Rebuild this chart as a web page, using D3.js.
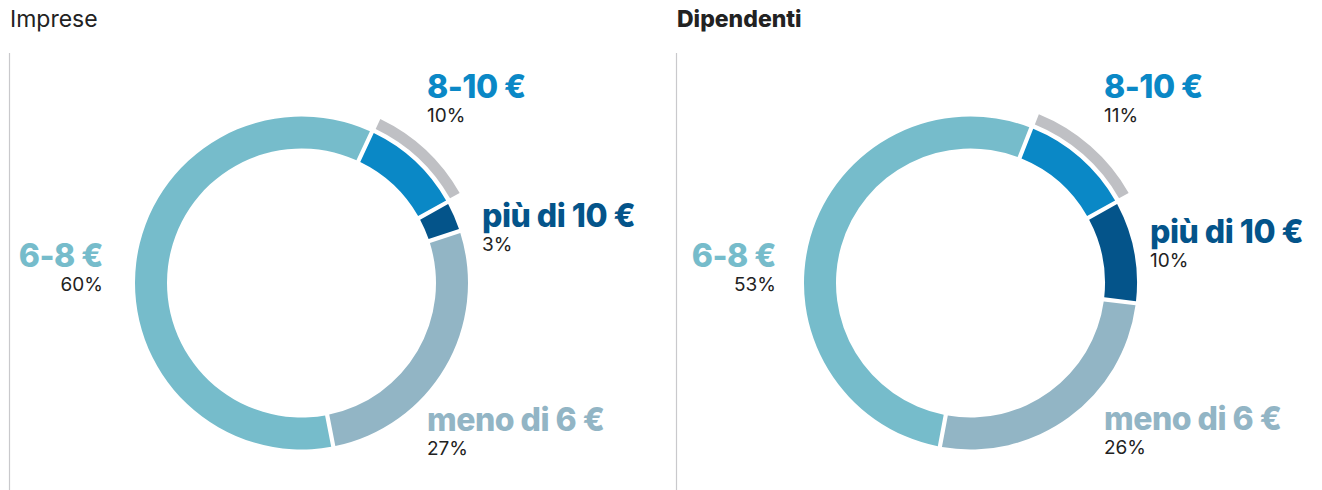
<!DOCTYPE html>
<html>
<head>
<meta charset="utf-8">
<script src="https://cdn.jsdelivr.net/npm/d3@7"></script>
<style>
  body { margin: 0; background: #fff; }
  text { font-family: Inter, "Noto Sans", sans-serif; }
</style>
</head>
<body>
<svg id="chart" width="1322" height="490"></svg>
<script>
// data
var categories = ["8-10 €", "più di 10 €", "meno di 6 €", "6-8 €"];
var impreseValues = [10, 3, 27, 60];
var dipendentiValues = [11, 10, 26, 53];
var chartTitles = ["Imprese", "Dipendenti"];

var colors = ["#0a88c6", "#04548a", "#92b5c5", "#76bccb"];
var highlightColor = "#bfc0c4";

var svg = d3.select("#chart");

// layout of the two donuts
var panels = [
  { title: chartTitles[0], values: impreseValues, cx: 301.5, titleX: 10, titleWeight: 400, lineX: 9.5,
    labels: [[125.5, -185, "start"], [180.5, -56, "start"], [125.5, 148, "start"], [-198.5, -16, "end"]] },
  { title: chartTitles[1], values: dipendentiValues, cx: 970.5, titleX: 677, titleWeight: 800, lineX: 676.5,
    labels: [[133.5, -185, "start"], [179.5, -40, "start"], [133.5, 147, "start"], [-194.5, -16, "end"]] }
];
var cy = 283;
var rOuter = 166.5, rInner = 134.5;

var arc = d3.arc()
    .innerRadius(rInner)
    .outerRadius(rOuter)
    .padAngle(0.021)
    .padRadius(200);

var outerArc = d3.arc()
    .innerRadius(171)
    .outerRadius(182)
    .padAngle(0.021)
    .padRadius(200);

// the end of the first slice sits at the same angle in both charts
var anchor = 61 * Math.PI / 180;

panels.forEach(function(p) {
  svg.append("text")
    .attr("x", p.titleX)
    .attr("y", 27)
    .style("font-size", "23px")
    .style("font-weight", p.titleWeight)
    .style("fill", "#222")
    .text(p.title);

  svg.append("line")
    .attr("x1", p.lineX).attr("x2", p.lineX)
    .attr("y1", 53).attr("y2", 490)
    .style("stroke", "#c9c9cc")
    .style("stroke-width", 1.2);

  var total = d3.sum(p.values);
  var start = anchor - p.values[0] / total * 2 * Math.PI;
  var pie = d3.pie().sort(null)
      .startAngle(start)
      .endAngle(start + 2 * Math.PI);
  var slices = pie(p.values);

  var g = svg.append("g")
    .attr("transform", "translate(" + p.cx + "," + cy + ")");

  g.selectAll("path.slice")
    .data(slices)
    .enter()
    .append("path")
    .attr("class", "slice")
    .attr("d", arc)
    .style("fill", function(d, i) { return colors[i]; });

  // grey highlight ring over the first slice
  g.append("path")
    .attr("d", outerArc(slices[0]))
    .style("fill", highlightColor);

  var lab = g.selectAll("g.lab")
    .data(slices)
    .enter()
    .append("g")
    .attr("class", "lab")
    .attr("transform", function(d, i) { return "translate(" + p.labels[i][0] + "," + p.labels[i][1] + ")"; });

  lab.append("text")
    .attr("text-anchor", function(d, i) { return p.labels[i][2]; })
    .style("font-size", "32px")
    .style("font-weight", 800)
    .style("letter-spacing", "-0.5px")
    .style("fill", function(d, i) { return colors[i]; })
    .text(function(d, i) { return categories[i]; });

  lab.append("text")
    .attr("y", 24)
    .attr("text-anchor", function(d, i) { return p.labels[i][2]; })
    .style("font-size", "19px")
    .style("fill", "#222")
    .text(function(d) { return d.data + "%"; });
});
</script>
</body>
</html>
